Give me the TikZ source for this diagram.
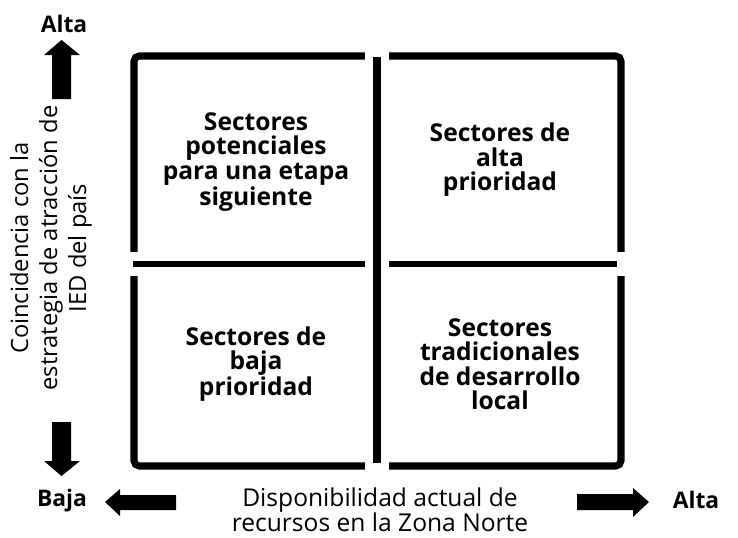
\documentclass[tikz,border=0pt]{standalone}
\usepackage{fontspec}
\setmainfont{Open Sans}
\usetikzlibrary{shapes,arrows}

\begin{document}
\begin{tikzpicture}[x=0.02cm,y=-0.02cm,
	frame/.style={line width=4pt},
	divider/.style={line width=3.4pt},
	gap/.style={white,line width=13.5pt},
	sector/.style={align=center,font=\bfseries\fontsize{14}{13.9}\selectfont},
	axis/.style={align=center,font=\fontsize{14}{14}\selectfont},
	level/.style={font=\bfseries\fontsize{13}{15}\selectfont}]
	\useasboundingbox (0,0) rectangle (738,538);
	%outer frame
	\draw[frame,rounded corners=3pt] (134,56) rectangle (621,466);
	%middle lines
	\draw[gap] (126,264) -- (630,264);
	\draw[divider] (133,264) -- (617,264);
	\draw[gap] (377,49) -- (377,473);
	\draw[frame,line width=4.5pt] (377,57) -- (377,463);
	%quadrants
	\node[sector] (topLeft) at (256,162) {Sectores\\potenciales\\para una etapa\\siguiente};
	\node[sector] (topRight) at (500,160) {Sectores de\\alta\\prioridad};
	\node[sector] (bottomLeft) at (256,364) {Sectores de\\baja\\prioridad};
	\node[sector] (bottomRight) at (500,364) {Sectores\\tradicionales\\de desarrollo\\local};
	%vertical axis
	\fill (52,99) -- (52,55) -- (44,55) -- (61.5,40) -- (80,55) -- (71,55) -- (71,99) -- cycle;
	\fill (52,422) -- (52,461) -- (44,461) -- (61.5,476) -- (80,461) -- (71,461) -- (71,422) -- cycle;
	\node[level] (highY) at (64,24) {Alta};
	\node[level] (lowY) at (62,501) {Baja};
	\node[axis,rotate=90,font=\fontsize{13.5}{16.5}\selectfont] (yLabel) at (51,248)
		{Coincidencia con la\\estrategia de atracción de\\IED del país};
	%horizontal axis
	\fill (176,495) -- (120,495) -- (120,489) -- (105,502) -- (120,516) -- (120,510) -- (176,510) -- cycle;
	\fill (577,494) -- (633,494) -- (633,488) -- (649,502) -- (633,517) -- (633,510) -- (577,510) -- cycle;
	\node[level] (highX) at (696,500) {Alta};
	\node[axis] (xLabel) at (380,510) {Disponibilidad actual de\\recursos en la Zona Norte};
\end{tikzpicture}
\end{document}
